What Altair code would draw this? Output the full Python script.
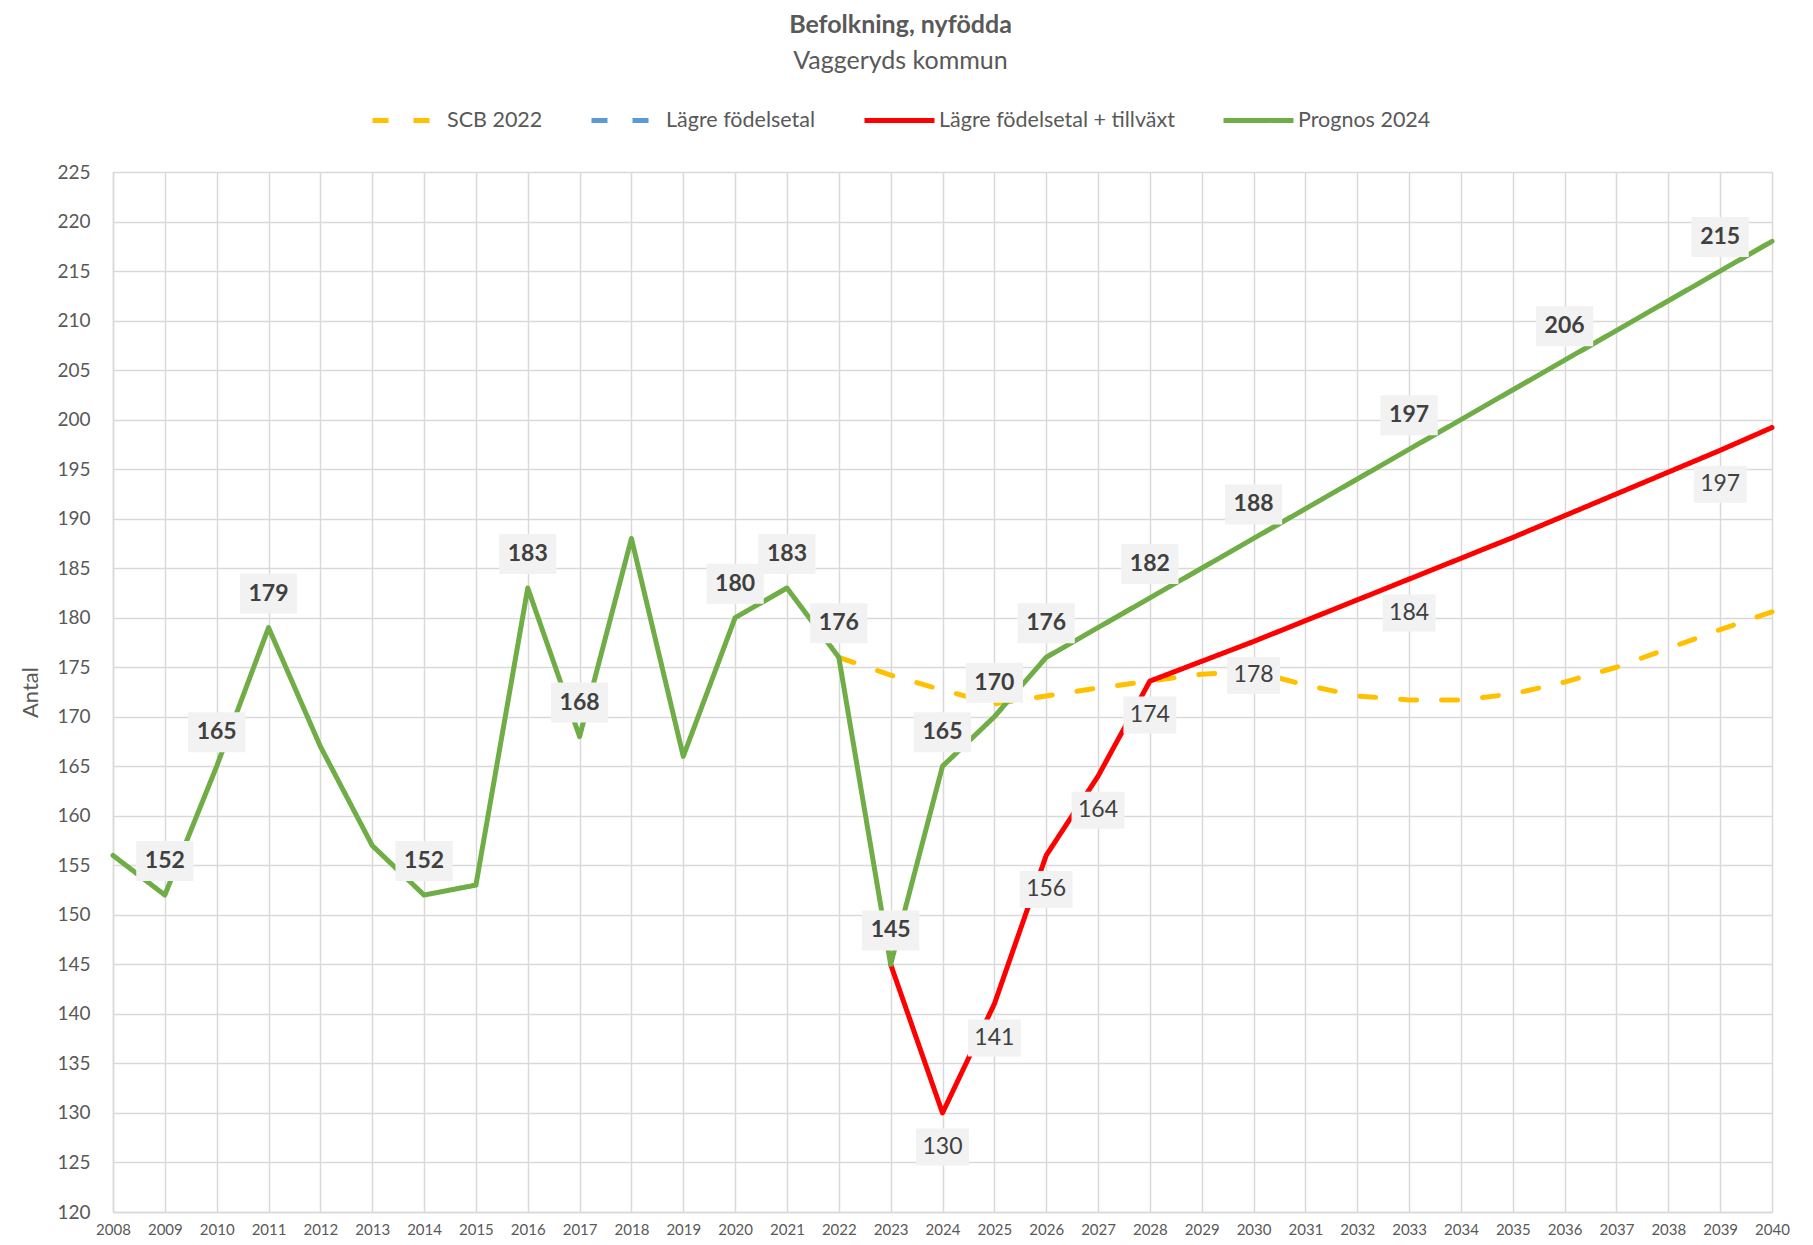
import altair as alt
import pandas as pd

years = [2008, 2009, 2010, 2011, 2012, 2013, 2014, 2015, 2016, 2017, 2018,
         2019, 2020, 2021, 2022, 2023, 2024, 2025, 2026, 2027, 2028, 2029,
         2030, 2031, 2032, 2033, 2034, 2035, 2036, 2037, 2038, 2039, 2040]

series_names = ["SCB 2022", "Lägre födelsetal", "Lägre födelsetal + tillväxt", "Prognos 2024"]
series_colors = ["#FFC000", "#5B9BD5", "#FF0000", "#70AD47"]
series_dashes = [[16, 25], [16, 25], [1, 0], [1, 0]]

scb_2022 = [None] * 14 + [176, 174.2, 172.7, 171.3, 172.1, 172.9, 173.6, 174.3,
                          174.6, 173.2, 172.1, 171.7, 171.7, 172.3, 173.5, 175.0,
                          176.9, 178.8, 180.6]
lagre_fodelsetal = [None] * 33
lagre_tillvaxt = [None] * 15 + [145, 130, 141, 156, 164, 173.6, 175.6, 177.6,
                                179.7, 181.8, 183.9, 186.0, 188.1, 190.3, 192.5,
                                194.7, 196.9, 199.2]
prognos_2024 = [156, 152, 165, 179, 167, 157, 152, 153, 183, 168, 188, 166, 180,
                183, 176, 145, 165, 170, 176, 179, 182, 185, 188, 191, 194, 197,
                200, 203, 206, 209, 212, 215, 218]

prognos_label_years = [2009, 2010, 2011, 2014, 2016, 2017, 2020, 2021, 2022, 2023,
                       2024, 2025, 2026, 2028, 2030, 2033, 2036, 2039]
tillvaxt_label_years = [2024, 2025, 2026, 2027, 2028, 2030, 2033, 2039]

y_ticks = [120, 125, 130, 135, 140, 145, 150, 155, 160, 165, 170, 175, 180, 185,
           190, 195, 200, 205, 210, 215, 220, 225]

rows = []
for name, vals in zip(series_names, [scb_2022, lagre_fodelsetal, lagre_tillvaxt, prognos_2024]):
    for yr, v in zip(years, vals):
        if v is not None:
            rows.append({"Ar": yr, "Antal": v, "Serie": name})
df = pd.DataFrame(rows)

lab_rows = []
for name, vals, lyears in [("Prognos 2024", prognos_2024, prognos_label_years),
                           ("Lägre födelsetal + tillväxt", lagre_tillvaxt, tillvaxt_label_years)]:
    for yr, v in zip(years, vals):
        if v is not None and yr in lyears:
            lab_rows.append({"Ar": yr, "Antal": v, "Serie": name})
labels = pd.DataFrame(lab_rows)

FONT = "Lato"
GREY = "#595959"

x_enc = alt.X("Ar:Q", scale=alt.Scale(domain=[2008, 2040], nice=False, zero=False),
              axis=alt.Axis(values=years, format="d", title=None, labelFontSize=15,
                            labelPadding=10, labelColor=GREY, labelFlush=False))
y_enc = alt.Y("Antal:Q", scale=alt.Scale(domain=[120, 225], nice=False, zero=False),
              axis=alt.Axis(values=y_ticks, title="Antal", labelFontSize=19,
                            labelPadding=23, labelColor=GREY, titleFontSize=22,
                            titleFontWeight="normal", titleColor=GREY, titlePadding=14))

legend = alt.Legend(title=None, orient="none", legendX=257, legendY=-89,
                    direction="horizontal", symbolType="stroke", symbolSize=4900,
                    symbolStrokeWidth=5, labelFontSize=21.5, labelColor=GREY,
                    labelFont=FONT, columnPadding=38, labelOffset=2, labelLimit=400)

color_enc = alt.Color("Serie:N", scale=alt.Scale(domain=series_names, range=series_colors),
                      legend=legend)
dash_enc = alt.StrokeDash("Serie:N", scale=alt.Scale(domain=series_names, range=series_dashes),
                          legend=legend)

line_layers = []
for name in series_names:
    line_layers.append(
        alt.Chart(df).transform_filter(alt.datum.Serie == name)
        .mark_line(strokeWidth=5, strokeCap="round", strokeJoin="round")
        .encode(x=x_enc, y=y_enc, color=color_enc, strokeDash=dash_enc)
    )

box_shape = "M-1.43,-1L1.43,-1L1.43,1L-1.43,1Z"

green_lab = alt.Chart(labels).transform_filter(alt.datum.Serie == "Prognos 2024")
red_lab = alt.Chart(labels).transform_filter(alt.datum.Serie == "Lägre födelsetal + tillväxt")

green_box = green_lab.mark_point(shape=box_shape, filled=True, size=1600, color="#F2F2F2",
                                 opacity=1, strokeWidth=0, yOffset=-34).encode(x="Ar:Q", y="Antal:Q")
green_txt = green_lab.mark_text(font=FONT, fontSize=23, fontWeight="bold", color="#404040",
                                dy=-34, baseline="middle", align="center").encode(
    x="Ar:Q", y="Antal:Q", text=alt.Text("Antal:Q", format=".0f"))
red_box = red_lab.mark_point(shape=box_shape, filled=True, size=1369, color="#F2F2F2",
                             opacity=1, strokeWidth=0, yOffset=34).encode(x="Ar:Q", y="Antal:Q")
red_txt = red_lab.mark_text(font=FONT, fontSize=23, fontWeight="normal", color="#404040",
                            dy=34, baseline="middle", align="center").encode(
    x="Ar:Q", y="Antal:Q", text=alt.Text("Antal:Q", format=".0f"))

chart = alt.layer(*line_layers, green_box, red_box, green_txt, red_txt).properties(
    width=1659,
    height=1040,
    autosize=alt.AutoSizeParams(type="none"),
    padding={"left": 105, "top": 164, "right": 33, "bottom": 25},
    title=alt.TitleParams(text="Befolkning, nyfödda", subtitle="Vaggeryds kommun",
                          font=FONT, fontSize=25, fontWeight="bold", color=GREY,
                          subtitleFont=FONT, subtitleFontSize=25, subtitleColor=GREY,
                          subtitlePadding=11, anchor="middle", dx=-42, offset=9),
).configure_view(stroke=None).configure_axis(
    gridColor="#D9D9D9", gridWidth=1.5, domainColor="#D9D9D9", domainWidth=1.5,
    ticks=False, tickSize=0, labelFont=FONT, titleFont=FONT
)

chart.save("out.html", embed_options={"renderer": "svg", "actions": False})
